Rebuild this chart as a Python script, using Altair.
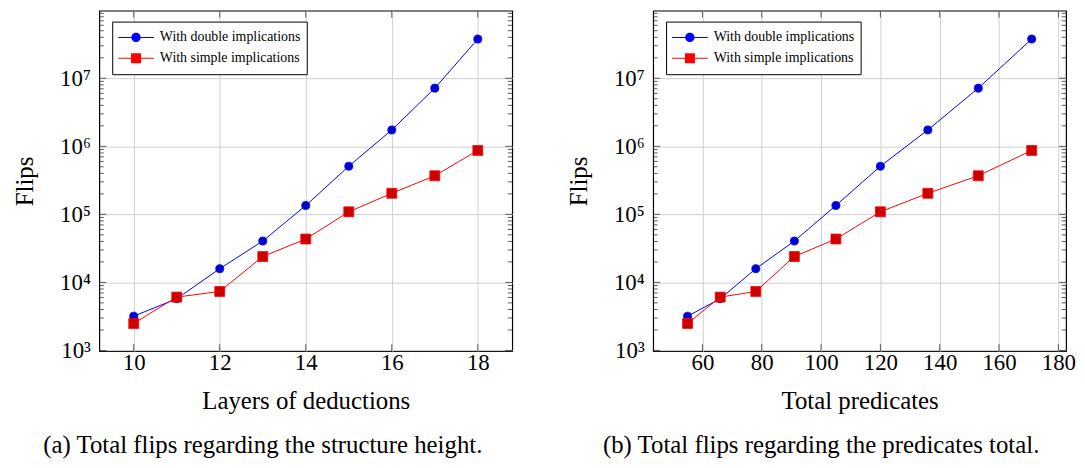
import altair as alt
import pandas as pd

# ---- data ----
layers = [10, 11, 12, 13, 14, 15, 16, 17, 18]
predicates = [55, 66, 78, 91, 105, 120, 136, 153, 171]
flips_double = [3190, 5750, 15900, 40500, 135000, 510000, 1740000, 7160000, 37700000]
flips_simple = [2490, 6080, 7360, 24000, 43400, 109000, 204000, 369000, 869000]
series_names = ["With double implications", "With simple implications"]

y_major = [1e3, 1e4, 1e5, 1e6, 1e7]
y_minor_mult = [2, 3, 4, 5, 6, 7, 8, 9]
y_minor = [m * d for d in y_major for m in y_minor_mult]
left_xticks = [10, 12, 14, 16, 18]
right_xticks = [60, 80, 100, 120, 140, 160, 180]

FONT = "Liberation Serif"
W, H = 416, 343
Y_DOMAIN = [977, 9.85e7]

circle_path = ("M-1,-0.03H-0.26V0.03H-1Z M0.26,-0.03H1V0.03H0.26Z "
               "M-0.26,0A0.26,0.26 0 1,1 0.26,0A0.26,0.26 0 1,1 -0.26,0Z")
square_path = ("M-1,-0.03H-0.28V0.03H-1Z M0.28,-0.03H1V0.03H0.28Z "
               "M-0.28,-0.28H0.28V0.28H-0.28Z")

SUP = "['⁰','¹','²','³','⁴','⁵','⁶','⁷','⁸','⁹']"


def panel(xvals, xdomain, xticks, xtitle, caption):
    yscale = alt.Scale(type="log", domain=Y_DOMAIN, nice=False)
    xscale = alt.Scale(domain=xdomain, nice=False, zero=False)
    xaxis = alt.Axis(values=xticks, title=xtitle, grid=True, gridColor="#d0d0d0",
                     gridWidth=1, ticks=False, domain=False, labelFont=FONT,
                     labelFontSize=23, labelColor="black", labelPadding=1,
                     labelFlush=False, titleFont=FONT, titleFontSize=25,
                     titleFontWeight="normal", titleColor="black", titlePadding=14)
    yaxis = alt.Axis(values=y_major, title="Flips", grid=True, gridColor="#d0d0d0",
                     gridWidth=1, ticks=False, domain=False, labelFont=FONT,
                     labelFontSize=23, labelColor="black", labelPadding=9,
                     labelFlush=False,
                     labelExpr="'10' + " + SUP + "[round(log(datum.value)/LN10)]",
                     titleFont=FONT, titleFontSize=25, titleFontWeight="normal",
                     titleColor="black", titlePadding=22)

    def X(f):
        return alt.X(f, type="quantitative", scale=xscale, axis=xaxis)

    def Y(f):
        return alt.Y(f, type="quantitative", scale=yscale, axis=yaxis)

    df_d = pd.DataFrame({"x": xvals, "y": flips_double})
    df_s = pd.DataFrame({"x": xvals, "y": flips_simple})
    df_all = pd.DataFrame({
        "x": list(xvals) * 2,
        "y": flips_double + flips_simple,
        "series": [series_names[0]] * len(xvals) + [series_names[1]] * len(xvals),
    })
    ymin_df = pd.DataFrame({"v": y_minor})
    ymaj_df = pd.DataFrame({"v": y_major})
    xt_df = pd.DataFrame({"v": xticks})

    tick_color = "#333333"
    tk = dict(color=tick_color, strokeWidth=0.8)
    ticks = [
        alt.Chart(ymin_df).mark_rule(**tk).encode(y=Y("v"), x=alt.value(0), x2=alt.value(4.5)),
        alt.Chart(ymin_df).mark_rule(**tk).encode(y=Y("v"), x=alt.value(W), x2=alt.value(W - 4.5)),
        alt.Chart(ymaj_df).mark_rule(**tk).encode(y=Y("v"), x=alt.value(0), x2=alt.value(7)),
        alt.Chart(ymaj_df).mark_rule(**tk).encode(y=Y("v"), x=alt.value(W), x2=alt.value(W - 7)),
        alt.Chart(xt_df).mark_rule(**tk).encode(x=X("v"), y=alt.value(0), y2=alt.value(7)),
        alt.Chart(xt_df).mark_rule(**tk).encode(x=X("v"), y=alt.value(H), y2=alt.value(H - 7)),
    ]

    line_d = alt.Chart(df_d).mark_line(color="#0000ff", strokeWidth=1).encode(x=X("x"), y=Y("y"))
    line_s = alt.Chart(df_s).mark_line(color="#ff0000", strokeWidth=1).encode(x=X("x"), y=Y("y"))
    pts_d = alt.Chart(df_d).mark_point(shape="circle", filled=True, fill="#0000cc",
                                       stroke="#0000ff", strokeWidth=0.8, size=66,
                                       opacity=1).encode(x=X("x"), y=Y("y"))
    pts_s = alt.Chart(df_s).mark_point(shape="square", filled=True, fill="#cc0000",
                                       stroke="#ff0000", strokeWidth=0.8, size=100,
                                       opacity=1).encode(x=X("x"), y=Y("y"))

    legend = alt.Legend(orient="none", legendX=13, legendY=11, title=None, padding=6,
                        fillColor="white", strokeColor="black", labelFont=FONT,
                        labelFontSize=14, labelColor="black", symbolSize=1296,
                        symbolStrokeWidth=0, symbolOpacity=1, clipHeight=20,
                        rowPadding=1, labelOffset=6, labelLimit=0)
    leg = alt.Chart(df_all).mark_point(filled=True, opacity=0).encode(
        x=X("x"), y=Y("y"),
        color=alt.Color("series:N", scale=alt.Scale(domain=series_names,
                                                    range=["#0000ff", "#ff0000"]),
                        legend=legend),
        shape=alt.Shape("series:N", scale=alt.Scale(domain=series_names,
                                                    range=[circle_path, square_path]),
                        legend=legend),
    )

    return alt.layer(line_d, line_s, *ticks, pts_d, pts_s, leg).properties(
        width=W, height=H,
        title=alt.TitleParams(caption, orient="bottom", anchor="middle", frame="bounds",
                              font=FONT, fontSize=25, fontWeight="normal",
                              color="black", offset=20),
    )


left = panel(layers, [9.2, 18.8], left_xticks, "Layers of deductions",
             "(a) Total flips regarding the structure height.")
right = panel(predicates, [43.4, 182.6], right_xticks, "Total predicates",
              "(b) Total flips regarding the predicates total.")

chart = alt.hconcat(left, right, spacing=53).resolve_scale(
    color="independent", shape="independent"
).resolve_legend(
    color="independent", shape="independent"
).configure(
    padding={"left": 4, "top": 0, "right": 0, "bottom": 0}
).configure_view(stroke="black", strokeWidth=1.2)

chart.save("out.html", embed_options={"renderer": "svg", "actions": False})
